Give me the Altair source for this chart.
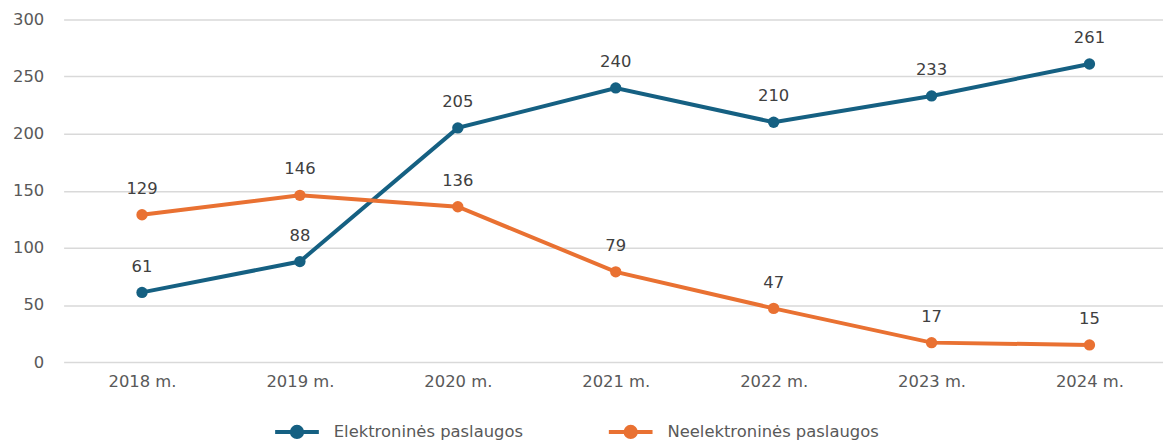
import altair as alt
import pandas as pd

years = ["2018 m.", "2019 m.", "2020 m.", "2021 m.", "2022 m.", "2023 m.", "2024 m."]
elektronines = [61, 88, 205, 240, 210, 233, 261]
neelektronines = [129, 146, 136, 79, 47, 17, 15]
series_names = ["Elektroninės paslaugos", "Neelektroninės paslaugos"]
colors = ["#156082", "#E97132"]

rows = []
for y, v in zip(years, elektronines):
    rows.append({"year": y, "value": v, "series": series_names[0]})
for y, v in zip(years, neelektronines):
    rows.append({"year": y, "value": v, "series": series_names[1]})
df = pd.DataFrame(rows)

FONT = "DejaVu Sans"
legend_sym = "M -2.2 0 L 2.2 0 M -0.52 0 A 0.52 0.52 0 1 1 0.52 0 A 0.52 0.52 0 1 1 -0.52 0 Z"

base = alt.Chart(df).encode(
    x=alt.X("year:N", sort=years, title=None,
            scale=alt.Scale(padding=0.481, align=0.516),
            axis=alt.Axis(labelAngle=0, domain=False, ticks=False, grid=False,
                          labelFontSize=16.5, labelColor="#595959", labelPadding=12, labelFont=FONT)),
    y=alt.Y("value:Q", title=None, scale=alt.Scale(domain=[0, 300]),
            axis=alt.Axis(values=[0, 50, 100, 150, 200, 250, 300], domain=False, ticks=False,
                          gridColor="#D9D9D9", gridWidth=1.5, labelFontSize=16.5, labelColor="#595959",
                          labelPadding=20, labelFont=FONT)),
    color=alt.Color("series:N", scale=alt.Scale(domain=series_names, range=colors), title=None,
                    legend=alt.Legend(orient="none", legendX=223, legendY=403,
                                      direction="horizontal", symbolType=legend_sym,
                                      symbolSize=400, symbolStrokeWidth=4, labelFontSize=16.5,
                                      labelColor="#595959", labelFont=FONT, columnPadding=78,
                                      labelOffset=25, labelLimit=500)),
)

lines = base.mark_line(strokeWidth=4).encode(detail="series:N")
points = base.mark_circle(size=130, opacity=1)
labels = base.mark_text(dy=-26, fontSize=16.5, font=FONT).encode(
    text="value:Q", color=alt.value("#404040"))

chart = alt.layer(lines, points, labels).properties(
    width=1107, height=345,
    padding={"left": 56, "top": 10, "right": 0, "bottom": 80},
    autosize=alt.AutoSizeParams(type="none"),
).configure_view(stroke=None)

chart.save("out.html", embed_options={"renderer": "svg", "actions": False})
